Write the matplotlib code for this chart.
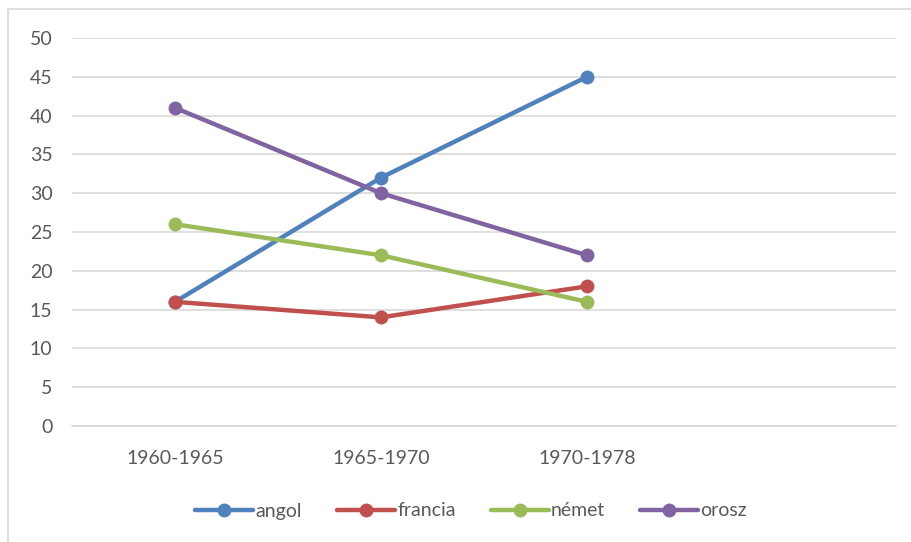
import matplotlib.pyplot as plt
from matplotlib.patches import Rectangle

plt.rcParams['font.family'] = ['Lato', 'DejaVu Sans']

# categories (the 4th slot is empty, like in the original Excel chart)
periods = ['1960-1965', '1965-1970', '1970-1978', '']
angol = [16, 32, 45]
francia = [16, 14, 18]
nemet = [26, 22, 16]
orosz = [41, 30, 22]

series = [
    ('angol', angol, '#4F81BD'),
    ('francia', francia, '#C0504D'),
    ('német', nemet, '#9BBB59'),
    ('orosz', orosz, '#8064A2'),
]

TXT = '#595959'

fig = plt.figure(figsize=(9.11, 5.42), dpi=100)
ax = fig.add_axes([72 / 911, 1 - 426 / 542, 824 / 911, 388 / 542])

# chart area border
fig.patches.append(Rectangle((8 / 911, -0.1), 1.2, 1 - 9 / 542 + 0.1,
                             transform=fig.transFigure, fill=False,
                             edgecolor='#D9D9D9', linewidth=1.2))

for name, vals, col in series:
    ax.plot(range(len(vals)), vals, color=col, linewidth=3.2, marker='o',
            markersize=9, label=name, solid_capstyle='round')

ax.set_xlim(-0.5, 3.5)
ax.set_ylim(0, 50)
ax.set_yticks(range(0, 51, 5))
ax.set_xticks(range(len(periods)))
ax.set_xticklabels(periods)
ax.grid(axis='y', color='#D9D9D9', linewidth=1.2)
ax.set_axisbelow(True)
for s in ax.spines.values():
    s.set_visible(False)
ax.spines['bottom'].set_visible(True)
ax.spines['bottom'].set_color('#D9D9D9')
ax.spines['bottom'].set_linewidth(1.2)
ax.tick_params(length=0, labelsize=14, labelcolor=TXT)
ax.tick_params(axis='x', pad=17)
ax.tick_params(axis='y', pad=14)

leg = fig.legend(loc='center', bbox_to_anchor=(471 / 911, 1 - 511 / 542),
                 ncol=4, frameon=False, fontsize=14, handlelength=3.0,
                 handletextpad=0.1, columnspacing=1.8)
for t in leg.get_texts():
    t.set_color(TXT)

fig.savefig('out.png', dpi=100)
